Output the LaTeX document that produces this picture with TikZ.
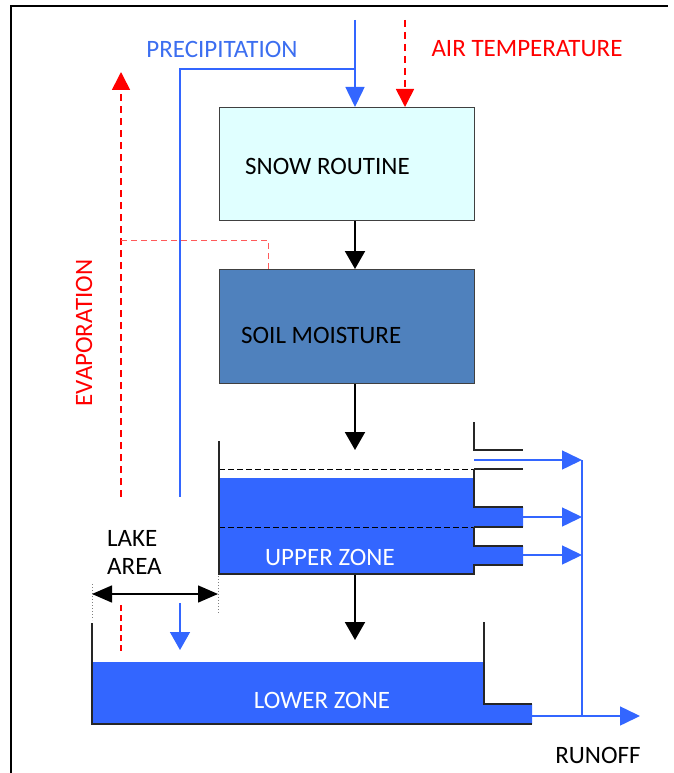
\documentclass[tikz,border=0pt]{standalone}
\usepackage{fontspec}
\setmainfont{Carlito}
\usetikzlibrary{arrows.meta}

\definecolor{waterblue}{RGB}{51,102,255}
\definecolor{precipblue}{RGB}{60,110,240}
\definecolor{snowcyan}{RGB}{224,255,255}
\definecolor{soilblue}{RGB}{79,129,189}
\definecolor{lightred}{RGB}{255,90,90}

\tikzset{
  lbl/.style={font=\fontsize{25}{30}\selectfont, inner sep=0pt},
  box/.style={draw=black!75, line width=1.2pt, anchor=north west, inner sep=0pt},
  flow/.style={line width=2pt, -{Triangle[width=20pt,length=18pt]}},
  rain/.style={waterblue, line width=1.5pt},
  rainflow/.style={rain, -{Triangle[width=19pt,length=20pt]}},
  heat/.style={red, line width=1.6pt, dash pattern=on 7pt off 5pt},
  heatflow/.style={heat, -{Triangle[width=18pt,length=18pt]}},
  wall/.style={line width=1.5pt, black!85},
  level/.style={line width=1pt, dash pattern=on 6pt off 3pt},
  tank/.style={fill=waterblue}
}

\begin{document}
\begin{tikzpicture}[x=1pt,y=-1pt]
\useasboundingbox (0,0) rectangle (673,773);
% frame
\draw[line width=2pt] (11,790) -- (11,6) -- (668,6);

% boxes
\node[box, fill=snowcyan, minimum width=255pt, minimum height=113pt] (snow) at (219,107) {};
\node[box, fill=soilblue, minimum width=255pt, minimum height=114pt] (soil) at (219,269) {};
\node[lbl, anchor=west] (snowtxt) at (245,166) {SNOW ROUTINE};
\node[lbl, anchor=west] (soiltxt) at (241,335) {SOIL MOISTURE};

% inputs
\coordinate (pin) at (355,20);
\coordinate (tin) at (405,20);
\coordinate (lakerain) at (180,497);
\node[lbl, text=precipblue] (prec) at (222,49) {PRECIPITATION};
\node[lbl, text=red] (airt) at (527,49) {AIR TEMPERATURE};
\draw[rainflow] (pin) -- (snow.north -| pin);
\draw[rain] (pin |- 0,69) -| (lakerain);
\draw[heatflow] (tin) -- (snow.north -| tin);

% evaporation
\coordinate (evbot) at (121,497);
\coordinate (evtop) at (121,72);
\coordinate (evsoil) at (268,240);
\draw[heatflow] (evbot) -- (evtop);
\draw[lightred, line width=1pt, dash pattern=on 6pt off 4pt] (evbot |- evsoil) -- (evsoil) -- (soil.north -| evsoil);
\node[lbl, text=red, rotate=90] (evap) at (84,333) {EVAPORATION};

% main column
\coordinate (uzin) at (355,450);
\coordinate (uzout) at (355,574);
\coordinate (lzin) at (355,640);
\draw[flow] (snow.south -| pin) -- (soil.north -| pin);
\draw[flow] (soil.south -| pin) -- (uzin);
\draw[flow] (uzout) -- (lzin);

% upper zone
\fill[tank] (219,478) -- (474,478) -- (474,507) -- (523,507) -- (523,527) -- (474,527)
  -- (474,546) -- (523,546) -- (523,565) -- (474,565) -- (474,574) -- (219,574) -- cycle;
\draw[level] (219,469) -- (474,469);
\draw[level] (219,527) -- (474,527);
\draw[wall] (219,441) -- (219,574) -- (474,574) -- (474,565) -- (523,565);
\draw[wall] (474,422) -- (474,450) -- (523,450);
\draw[wall] (474,469) -- (523,469);
\draw[wall] (474,469) -- (474,507) -- (523,507);
\draw[wall] (474,527) -- (523,527);
\draw[wall] (474,527) -- (474,546) -- (523,546);
\node[lbl, text=white] (uz) at (330,557) {UPPER ZONE};

% outlets
\coordinate (q0) at (474,460);
\coordinate (q1) at (523,517);
\coordinate (q2) at (523,555);
\coordinate (sum) at (582,460);
\coordinate (ql) at (532,716);
\coordinate (out) at (640,716);
\draw[rainflow] (q0) -- (sum);
\draw[rainflow] (q1) -- (q1 -| sum);
\draw[rainflow] (q2) -- (q2 -| sum);
\draw[rain] (sum) -- (sum |- ql);
\draw[rainflow] (ql) -- (out);
\node[lbl] (runoff) at (598,755) {RUNOFF};

% lower zone
\fill[tank] (92,662) -- (484,662) -- (484,704) -- (532,704) -- (532,724) -- (92,724) -- cycle;
\draw[wall] (92,623) -- (92,724) -- (532,724);
\draw[wall] (484,622) -- (484,704) -- (532,704);
\node[lbl, text=white] (lz) at (322,700) {LOWER ZONE};

% lake area
\node[lbl, anchor=west] (lake) at (107,538) {LAKE};
\node[lbl, anchor=west] (area) at (107,566) {AREA};
\coordinate (la) at (92,594);
\coordinate (lb) at (218,594);
\draw[gray, line width=1pt, dotted] (92,584) -- (92,620);
\draw[gray, line width=1pt, dotted] (218,576) -- (218,613);
\draw[line width=1.5pt, {Triangle[width=17pt,length=20pt]}-{Triangle[width=17pt,length=20pt]}] (la) -- (lb);
\coordinate (lkev) at (121,605);
\coordinate (lkrain) at (180,603);
\draw[red, line width=1.3pt, dash pattern=on 6pt off 4pt] (lkev) -- (121,651);
\draw[rain, -{Triangle[width=20pt,length=18pt]}] (lkrain) -- (180,650);
\end{tikzpicture}
\end{document}
